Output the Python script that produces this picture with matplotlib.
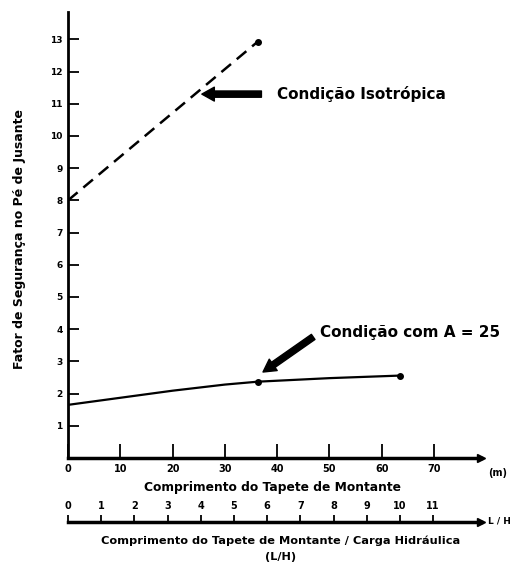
import matplotlib
matplotlib.use("Agg")
import matplotlib.pyplot as plt

# comprimento do tapete de montante (m) e fator de seguranca
x_iso = [0, 36.3]
fs_iso = [8.0, 12.93]

x_a25 = [0, 10, 20, 30, 36.3, 50, 63.6]
fs_a25 = [1.65, 1.87, 2.09, 2.28, 2.37, 2.48, 2.56]

# carga hidraulica (m) usada na escala L/H
carga_h = 6.35

x_ticks = [0, 10, 20, 30, 40, 50, 60, 70]
y_ticks = list(range(1, 14))
lh_ticks = list(range(0, 12))

plt.rcParams['font.family'] = ['DejaVu Sans']
plt.rcParams['font.weight'] = 'bold'

fig = plt.figure(figsize=(5.31, 5.66), dpi=100)
W, H = 531, 566
x0, x1 = 68, 481
y0, y1 = 458, 12
ax = fig.add_axes([x0 / W, 1 - y0 / H, (x1 - x0) / W, (y0 - y1) / H])

ax.plot(x_iso, fs_iso, color='k', lw=1.8, ls=(0, (5, 3)))
ax.plot(x_iso[-1], fs_iso[-1], 'o', color='k', ms=4)
ax.plot(x_a25, fs_a25, color='k', lw=1.6)
ax.plot([x_a25[4], x_a25[-1]], [fs_a25[4], fs_a25[-1]], 'o', color='k', ms=4)

ax.set_xlim(0, 79)
ax.set_ylim(0, 13.85)
for s in ['top', 'right']:
    ax.spines[s].set_visible(False)
ax.spines['left'].set_linewidth(2)
ax.spines['bottom'].set_linewidth(2.5)

ax.set_xticks(x_ticks)
ax.set_xticklabels([str(v) for v in x_ticks])
ax.set_yticks(y_ticks)
ax.set_yticklabels([str(v) for v in y_ticks])
ax.tick_params(axis='x', direction='in', length=10, width=1.3, labelsize=7, pad=4)
ax.tick_params(axis='y', direction='in', length=8, width=1.3, labelsize=6.5, pad=4)
ax.plot(1, 0, '>', color='k', ms=6, transform=ax.transAxes, clip_on=False)

ax.text(80.3, -0.3, '(m)', fontsize=7, fontweight='bold', va='top', ha='left', clip_on=False)
fig.text(272 / W, 1 - 488 / H, 'Comprimento do Tapete de Montante',
         fontsize=8.8, fontweight='bold', ha='center', va='center')
fig.text(20 / W, 1 - 239 / H, 'Fator de Segurança no Pé de Jusante',
         fontsize=9, fontweight='bold', ha='center', va='center', rotation=90)

# escala secundaria L/H
lh_pos = (458 - 522) / (y0 - y1)
sec = ax.secondary_xaxis(lh_pos, functions=(lambda v: v / carga_h, lambda v: v * carga_h))
sec.set_alignment('top')
sec.set_xticks(lh_ticks)
sec.set_xticklabels([str(v) for v in lh_ticks])
sec.spines['top'].set_linewidth(2.5)
sec.tick_params(axis='x', direction='out', length=5, width=1.3, labelsize=7, pad=3)
ax.plot(1, lh_pos, '>', color='k', ms=6, transform=ax.transAxes, clip_on=False)
fig.text(488 / W, 1 - 521 / H, 'L / H', fontsize=6.5, fontweight='bold',
         ha='left', va='center')
fig.text(281 / W, 1 - 541 / H, 'Comprimento do Tapete de Montante / Carga Hidráulica',
         fontsize=8.2, fontweight='bold', ha='center', va='center')
fig.text(281 / W, 1 - 557 / H, '(L/H)', fontsize=8.2, fontweight='bold',
         ha='center', va='center')

# setas e textos
arrow = dict(arrowstyle='simple,head_length=0.9,head_width=1.0,tail_width=0.45',
             color='k', shrinkA=0, shrinkB=0)
ax.annotate('', xy=(25.6, 11.3), xytext=(37.0, 11.3), arrowprops=arrow,
            annotation_clip=False)
ax.text(39.9, 11.3, 'Condição Isotrópica', fontsize=11, fontweight='bold',
        ha='left', va='center')
ax.annotate('', xy=(37.3, 2.67), xytext=(46.9, 3.76), arrowprops=arrow,
            annotation_clip=False)
ax.text(48.2, 3.91, 'Condição com A = 25', fontsize=11, fontweight='bold',
        ha='left', va='center', clip_on=False)

fig.savefig('out.png', dpi=100)
